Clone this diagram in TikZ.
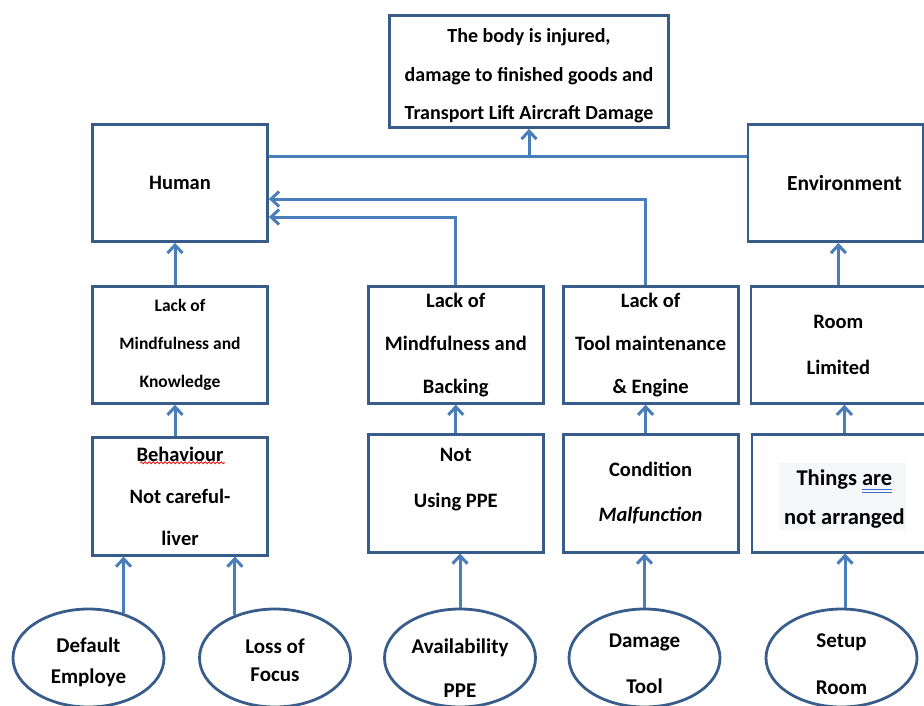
\documentclass[tikz,border=0pt]{standalone}
\usepackage{fontspec}
\setmainfont{Carlito}
\usepackage{tikz}
\usetikzlibrary{arrows.meta,shapes.geometric,positioning,calc,
                decorations.pathmorphing}
\definecolor{boxblue}{RGB}{56,93,138}
\definecolor{linkblue}{RGB}{74,126,187}
\definecolor{shadegray}{RGB}{245,246,248}
\definecolor{spellred}{RGB}{222,30,30}
\definecolor{markblue}{RGB}{60,110,215}
\pgfdeclarelayer{background}
\pgfsetlayers{background,main}
\newcommand\dblmark[1]{\setbox0\hbox{#1}\rlap{\color{markblue}%
  \rule[-4.5pt]{\wd0}{1.2pt}\llap{\rule[-7.5pt]{\wd0}{1.2pt}}}#1}
\newcommand\lift[1]{\rule{0pt}{#1}}

\begin{document}
\begin{tikzpicture}[x=1pt, y=-1pt,
  box/.style={rectangle, draw=boxblue, line width=2.8pt,
              minimum width=175pt, minimum height=117pt, inner sep=2pt,
              align=center, font=\bfseries\fontsize{20.5}{43}\selectfont},
  goal/.style={box, minimum width=279pt, minimum height=112pt,
               font=\bfseries\fontsize{20}{38.5}\selectfont},
  cause/.style={box, minimum height=118pt},
  oval/.style={ellipse, draw=boxblue, line width=2.8pt,
               minimum width=151pt, minimum height=98pt,
               inner xsep=1pt, inner ysep=-15pt,
               align=center, font=\bfseries\fontsize{21}{44}\selectfont},
  arr/.style={-{Straight Barb[length=8pt,width=15pt]}, draw=linkblue,
              line width=3pt},
  link/.style={draw=linkblue, line width=3pt},
  squiggle/.style={draw=spellred, line width=0.8pt, decorate,
                   decoration={snake, amplitude=1pt, segment length=4pt}},
]
\useasboundingbox (0,0) rectangle (924,705);
\clip (0,0) rectangle (924,705);

% Top — consequence
\node[goal] (top) at (529,71.5)
  {\lift{23pt}The body is injured,\\damage to finished goods and\\Transport Lift Aircraft Damage};

% Row 1 — main factors
\node[box] (human) at (180,183) {Human};

% Row 2 — lack of ...
\node[box, below=42pt of human, font=\bfseries\fontsize{17.5}{38}\selectfont]
  (lackknow) {Lack of\\Mindfulness and\\Knowledge};
\node[box, right=98pt of lackknow] (lackback) {Lack of\\Mindfulness and\\Backing};
\node[box, right=17pt of lackback] (lacktool) {Lack of\\Tool maintenance\\\& Engine};
\node[box, right=10pt of lacktool, font=\bfseries\fontsize{20.5}{46}\selectfont]
  (room) {Room\\Limited};
\node[box, above=42pt of room, xshift=-3pt, font=\bfseries\fontsize{21.5}{43}\selectfont]
  (env) {\hspace*{18pt}Environment};

% Row 3 — conditions
\node[cause, below=31pt of lackknow, font=\bfseries\fontsize{20.5}{42}\selectfont]
  (behave) {Behaviour\\Not careful-\\liver};
\node[cause, below=28pt of lackback, text depth=30pt,
      font=\bfseries\fontsize{20.5}{46}\selectfont] (noppe) {Not\\Using PPE};
\node[cause, below=28pt of lacktool, font=\bfseries\fontsize{20.5}{45}\selectfont]
  (cond) {Condition\\\textit{Malfunction}};
\node[cause, below=28pt of room, xshift=6pt, minimum width=185pt,
      font=\bfseries\fontsize{22.5}{39}\selectfont]
  (things) {\lift{27pt}Things \dblmark{are}\\not arranged};

% Row 4 — root causes
\node[oval, font=\bfseries\fontsize{21}{31}\selectfont] (dflt) at (88.5,658) {\lift{24pt}Default\\Employe};
\node[oval, font=\bfseries\fontsize{21}{28}\selectfont] (focus) at (275,658) {\lift{20pt}Loss of\\Focus};
\node[oval] (avail) at (460,658) {\lift{34pt}Availability\\PPE};
\node[oval, font=\bfseries\fontsize{21}{46}\selectfont] (dmg) at (644.5,658) {\lift{26pt}Damage\\Tool};
\node[oval, font=\bfseries\fontsize{21}{47}\selectfont] (setup) at (841.5,658) {\lift{26pt}Setup\\Room};

% Marks on the text
\begin{pgfonlayer}{background}
\fill[shadegray] ([xshift=-65pt,yshift=30pt]things.center)
  rectangle ([xshift=62pt,yshift=-37pt]things.center);
\end{pgfonlayer}
\draw[squiggle] ([xshift=-40pt,yshift=-27pt]behave.north) -- ++(85,0);

% Arrows
\coordinate (join) at ([yshift=27pt]human.east -| top.south);
\draw[link] ([yshift=27pt]human.east) -- ([yshift=27pt]human.east -| env.west);
\draw[arr] (join) -- (top.south);

\draw[arr] ([xshift=-5pt]lackknow.north) -- ([xshift=-5pt]lackknow.north |- human.south);
\draw[arr] (lackback.north) |- ([yshift=-34pt]human.east);
\draw[arr] ([xshift=-5pt]lacktool.north) |- ([yshift=-16pt]human.east);
\draw[arr] (room.north) -- (room.north |- env.south);

\draw[arr] ([xshift=-5pt]behave.north) -- ([xshift=-5pt]behave.north |- lackknow.south);
\draw[arr] (noppe.north) -- (noppe.north |- lackback.south);
\draw[arr] ([xshift=-5pt]cond.north) -- ([xshift=-5pt]cond.north |- lacktool.south);
\draw[arr] (things.north) -- (things.north |- room.south);

\draw[arr] (dflt.52) -- (dflt.52 |- behave.south);
\draw[arr] (focus.133) -- (focus.133 |- behave.south);
\draw[arr] (avail.north) -- (avail.north |- noppe.south);
\draw[arr] (dmg.north) -- (dmg.north |- cond.south);
\draw[arr] (setup.86) -- (setup.86 |- things.south);
\end{tikzpicture}
\end{document}
